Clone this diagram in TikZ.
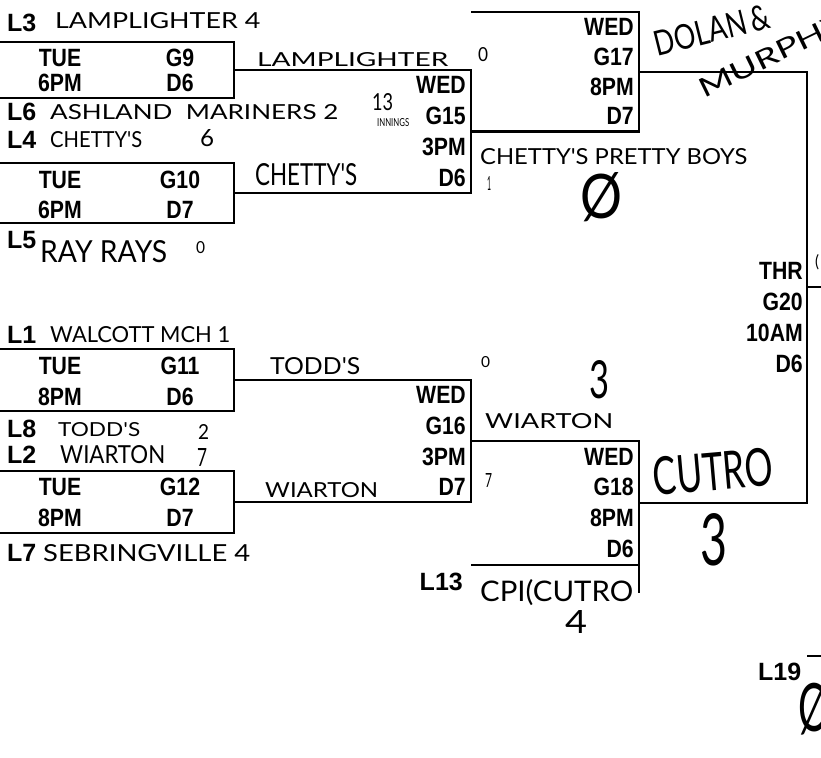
\documentclass[tikz,border=0pt]{standalone}
\usepackage{fontspec}
\usepackage{graphicx}
\newfontfamily\prnfont{Liberation Sans}[FakeStretch=0.85]
\newfontfamily\labfont{Liberation Sans}
\newfontfamily\handfont{Lato}
\newcommand{\handw}[3]{\resizebox{#1pt}{#2pt}{\handfont #3}}
\begin{document}
\begin{tikzpicture}[x=1pt,y=-1pt,
  brk/.style={line width=2.5pt},
  prt/.style={font=\prnfont\bfseries\fontsize{25}{25}\selectfont, inner sep=0pt},
  prte/.style={prt, anchor=east},
  lbl/.style={font=\labfont\bfseries\fontsize{25}{25}\selectfont, inner sep=0pt, anchor=west},
  hw/.style={inner sep=0pt, anchor=west}]
\useasboundingbox (0,0) rectangle (821,757);
\fill[white] (0,0) rectangle (821,757);

% ---------- coordinates ----------
% first round boxes
\coordinate (g9tl) at (0,42);   \coordinate (g9tr) at (234,42);
\coordinate (g9br) at (234,98); \coordinate (g9bl) at (0,98);
\coordinate (g9m) at (234,70);
\coordinate (g10tl) at (0,163);   \coordinate (g10tr) at (234,163);
\coordinate (g10br) at (234,223); \coordinate (g10bl) at (0,223);
\coordinate (g10m) at (234,193);
\coordinate (g11tl) at (0,349);   \coordinate (g11tr) at (234,349);
\coordinate (g11br) at (234,411); \coordinate (g11bl) at (0,411);
\coordinate (g11m) at (234,380);
\coordinate (g12tl) at (0,471);   \coordinate (g12tr) at (234,471);
\coordinate (g12br) at (234,533); \coordinate (g12bl) at (0,533);
\coordinate (g12m) at (234,502);
% second round
\coordinate (g15t) at (471,70);  \coordinate (g15b) at (471,193);
\coordinate (g15m) at (471,131.5);
\coordinate (g16t) at (471,380); \coordinate (g16b) at (471,502);
\coordinate (g16m) at (471,441);
% third round
\coordinate (g17tl) at (471,12); \coordinate (g17tr) at (639,12);
\coordinate (g17br) at (639,131.5); \coordinate (g17m) at (639,72);
\coordinate (g18tr) at (639,441); \coordinate (g18x) at (639,593);
\coordinate (g18bl) at (471,565); \coordinate (g18br) at (639,565);
\coordinate (g18m) at (639,503);
% final
\coordinate (g20t) at (807,72); \coordinate (g20b) at (807,503);
\coordinate (g20m) at (807,287); \coordinate (g20out) at (821,287);
\coordinate (l19a) at (807,656); \coordinate (l19b) at (821,656);

% ---------- bracket lines ----------
\draw[brk] (g9tl) -- (g9tr) -- (g9br) -- (g9bl);
\draw[brk] (g10tl) -- (g10tr) -- (g10br) -- (g10bl);
\draw[brk] (g11tl) -- (g11tr) -- (g11br) -- (g11bl);
\draw[brk] (g12tl) -- (g12tr) -- (g12br) -- (g12bl);
\draw[brk] (g9m) -- (g15t) -- (g15b) -- (g10m);
\draw[brk] (g11m) -- (g16t) -- (g16b) -- (g12m);
\draw[brk] (g17tl) -- (g17tr) -- (g17br) -- (g15m);
\draw[brk] (g16m) -- (g18tr) -- (g18x);
\draw[brk] (g18bl) -- (g18br);
\draw[brk] (g17m) -- (g20t) -- (g20b) -- (g18m);
\draw[brk] (g20m) -- (g20out);
\draw[brk] (l19a) -- (l19b);

% ---------- printed box texts ----------
\node[prt] (t9a) at (60,58) {TUE};  \node[prt] (t9b) at (180,58) {G9};
\node[prt] (t9c) at (60,83) {6PM};  \node[prt] (t9d) at (180,83) {D6};
\node[prt] (t10a) at (60,180) {TUE}; \node[prt] (t10b) at (180,180) {G10};
\node[prt] (t10c) at (60,210) {6PM}; \node[prt] (t10d) at (180,210) {D7};
\node[prt] (t11a) at (60,366) {TUE}; \node[prt] (t11b) at (180,366) {G11};
\node[prt] (t11c) at (60,397) {8PM}; \node[prt] (t11d) at (180,397) {D6};
\node[prt] (t12a) at (60,487) {TUE}; \node[prt] (t12b) at (180,487) {G12};
\node[prt] (t12c) at (60,518) {8PM}; \node[prt] (t12d) at (180,518) {D7};

\node[prte] (t15a) at (466,85) {WED};
\node[prte] (t15b) at (466,116) {G15};
\node[prte] (t15c) at (466,147) {3PM};
\node[prte] (t15d) at (466,178) {D6};
\node[prte] (t16a) at (466,395) {WED};
\node[prte] (t16b) at (466,426) {G16};
\node[prte] (t16c) at (466,457) {3PM};
\node[prte] (t16d) at (466,487) {D7};
\node[prte] (t17a) at (634,27) {WED};
\node[prte] (t17b) at (634,57) {G17};
\node[prte] (t17c) at (634,87) {8PM};
\node[prte] (t17d) at (634,116) {D7};
\node[prte] (t18a) at (634,457) {WED};
\node[prte] (t18b) at (634,487) {G18};
\node[prte] (t18c) at (634,518) {8PM};
\node[prte] (t18d) at (634,549) {D6};
\node[prte] (t20a) at (803,271) {THR};
\node[prte] (t20b) at (803,302) {G20};
\node[prte] (t20c) at (803,333) {10AM};
\node[prte] (t20d) at (803,364) {D6};

% ---------- line labels ----------
\node[lbl] (l3) at (7,23) {L3};
\node[lbl] (l6) at (7,112) {L6};
\node[lbl] (l4) at (7,140) {L4};
\node[lbl] (l5) at (7,240) {L5};
\node[lbl] (l1) at (7,335) {L1};
\node[lbl] (l8) at (7,429) {L8};
\node[lbl] (l2) at (7,455) {L2};
\node[lbl] (l7) at (7,553) {L7};
\node[lbl, anchor=east] (l13) at (463,582) {L13};
\node[lbl] (l19) at (758,672) {L19};
\node[lbl] (l14) at (423,-9) {L14};

% ---------- handwriting ----------
\node[hw] (h1) at (55,21) {\handw{205}{16}{LAMPLIGHTER 4}};
\node[hw] (h2) at (257,60) {\handw{191}{14}{LAMPLIGHTER}};
\node[hw] (h3) at (478,55) {\handw{10}{14}{0}};
\node[hw] (h4) at (372,102) {\handw{21}{17}{13}};
\node[hw] (h5) at (377,123) {\handw{32}{8}{INNINGS}};
\node[hw] (h6) at (50,112) {\handw{288}{15}{ASHLAND\ \ MARINERS 2}};
\node[hw] (h7) at (50,140) {\handw{92}{16}{CHETTY'S}};
\node[hw] (h8) at (200,138) {\handw{14}{17}{6}};
\node[hw] (h9) at (255,175) {\handw{102}{22}{CHETTY'S}};
\node[hw] (h10) at (487,183) {\handw{4}{14}{1}};
\node[hw] (h11) at (480,157) {\handw{267}{16}{CHETTY'S PRETTY BOYS}};
\node[hw] (h12) at (580,197) {\handw{42}{46}{Ø}};
\node[inner sep=0pt, rotate=14] (h13) at (712,30) {\handw{118}{25}{DOLAN\,\&}};
\node[inner sep=0pt, rotate=26] (h14) at (772,55) {\handw{160}{19}{MURPHY}};
\node[hw] (h34) at (815,262) {\handw{4}{13}{(}};
\node[hw] (h15) at (50,335) {\handw{180}{16}{WALCOTT MCH 1}};
\node[hw] (h16) at (40,252) {\handw{127}{22}{RAY RAYS}};
\node[hw] (h17) at (196,248) {\handw{9}{12}{0}};
\node[hw] (h18) at (270,366) {\handw{90}{17}{TODD'S}};
\node[hw] (h19) at (481,362) {\handw{9}{11}{0}};
\node[hw] (h20) at (589,380) {\handw{20}{38}{3}};
\node[hw] (h21) at (485,421) {\handw{128}{15}{WIARTON}};
\node[hw] (h22) at (485,480) {\handw{7}{14}{7}};
\node[inner sep=0pt, rotate=5] (h23) at (713,472) {\handw{120}{38}{CUTRO}};
\node[hw] (h24) at (700,540) {\handw{27}{52}{3}};
\node[hw] (h25) at (58,430) {\handw{82}{14}{TODD'S}};
\node[hw] (h26) at (198,432) {\handw{11}{15}{2}};
\node[hw] (h27) at (60,455) {\handw{105}{18}{WIARTON}};
\node[hw] (h28) at (197,457) {\handw{10}{18}{7}};
\node[hw] (h29) at (265,490) {\handw{113}{15}{WIARTON}};
\node[hw] (h30) at (43,553) {\handw{207}{17}{SEBRINGVILLE 4}};
\node[hw] (h31) at (480,593) {\handw{153}{22}{CPI(CUTRO}};
\node[hw] (h32) at (565,622) {\handw{22}{23}{4}};
\node[hw] (h33) at (798,708) {\handw{32}{50}{Ø}};
\end{tikzpicture}
\end{document}
